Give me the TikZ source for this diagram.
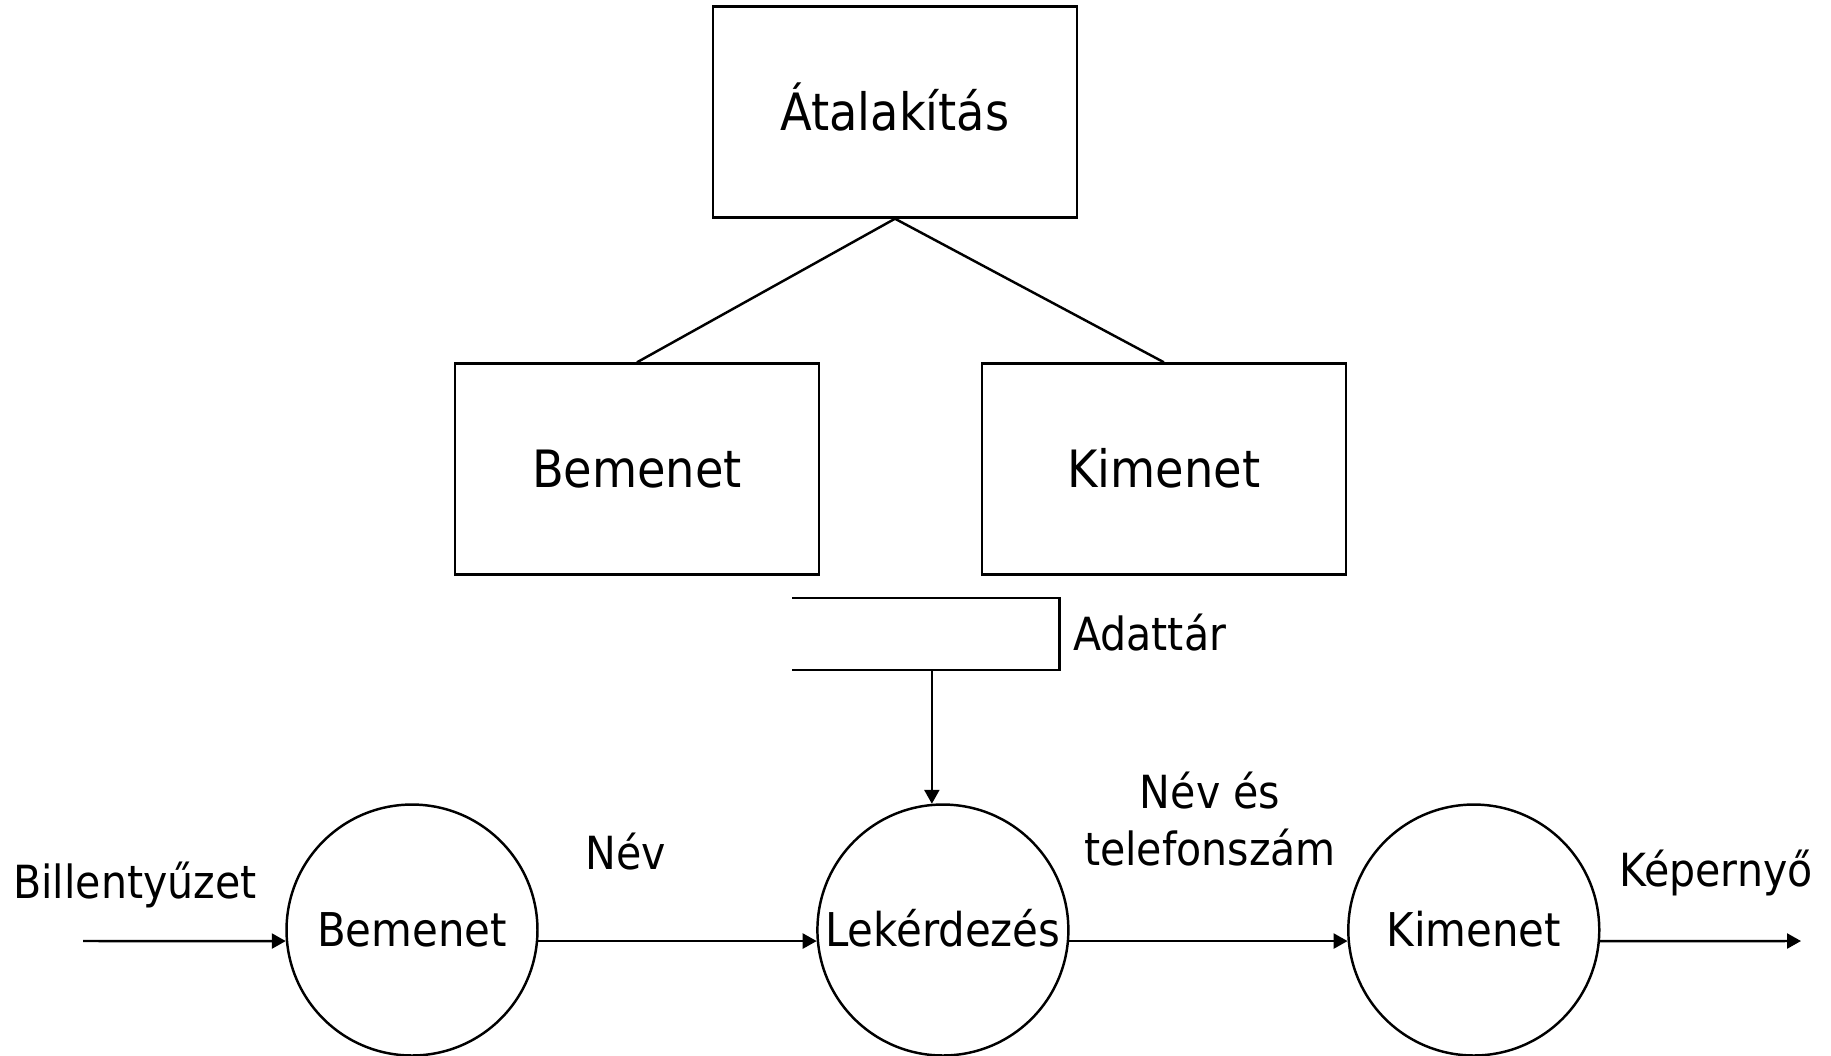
\documentclass[tikz,border=0pt]{standalone}
\usepackage{fontspec}
\setmainfont{DejaVu Sans Condensed}
\usetikzlibrary{positioning, arrows.meta}
\tikzset{
    >={Triangle[length=0.28cm, width=0.3cm]}, % filled arrow heads
    every picture/.style={line width=1.4pt}, % all lines a bit thick
    box/.style={draw, minimum width=7.28cm, minimum height=4.22cm, text height=21.4pt, text depth=0pt, font=\fontsize{29.3}{35}\selectfont}, % boxes of the tree
    proc/.style={draw, circle, minimum size=5.02cm, inner sep=0pt, text height=19.3pt, text depth=0pt, font=\fontsize{26.5}{32}\selectfont}, % processes
    lbl/.style={inner sep=0pt, font=\fontsize{26}{32}\selectfont}, % flow labels
}

\begin{document}
\begin{tikzpicture}[x=0.02cm, y=-0.02cm]
    \useasboundingbox (0,0) rectangle (1831,1055);
    % structure
    \node[box] (atal) at (895,112) {Átalakítás};
    \node[box] (bembox) at (637,469) {Bemenet};
    \node[box, right of=bembox, node distance=10.54cm] (kimbox) {Kimenet};
    \draw (atal.south) -- (bembox.north)
          (atal.south) -- (kimbox.north);
    % data store
    \node[minimum width=5.3cm, minimum height=1.4cm] (store) at (926,634) {};
    \draw (store.north west) -- (store.north east) -- (store.south east) -- (store.south west);
    \node[lbl, anchor=base west] (adat) at (1072,650) {Adattár};
    % data flow
    \node[proc] (bem) at (412,930) {Bemenet};
    \node[proc, right of=bem, node distance=10.62cm] (lek) {Lekérdezés};
    \node[proc, right of=lek, node distance=10.62cm] (kim) {Kimenet};
    \coordinate (be) at (83,941);
    \coordinate (ki) at (1801,941);
    \draw[->] (be) -- (bem.185);
    \draw[->] (bem.-5) -- (lek.185);
    \draw[->] (lek.-5) -- (kim.185);
    \draw[->] (kim.-5) -- (ki);
    \draw[->] (lek.95 |- store.south) -- (lek.95);
    \node[lbl, anchor=base] (bill) at (135,898) {Billentyűzet};
    \node[lbl, anchor=base] (nev) at (626,869) {Név};
    \node[lbl, align=center] (nevtel) at (1210,819) {Név és\\telefonszám};
    \node[lbl, anchor=base] (kep) at (1716,886) {Képernyő};
\end{tikzpicture}
\end{document}
